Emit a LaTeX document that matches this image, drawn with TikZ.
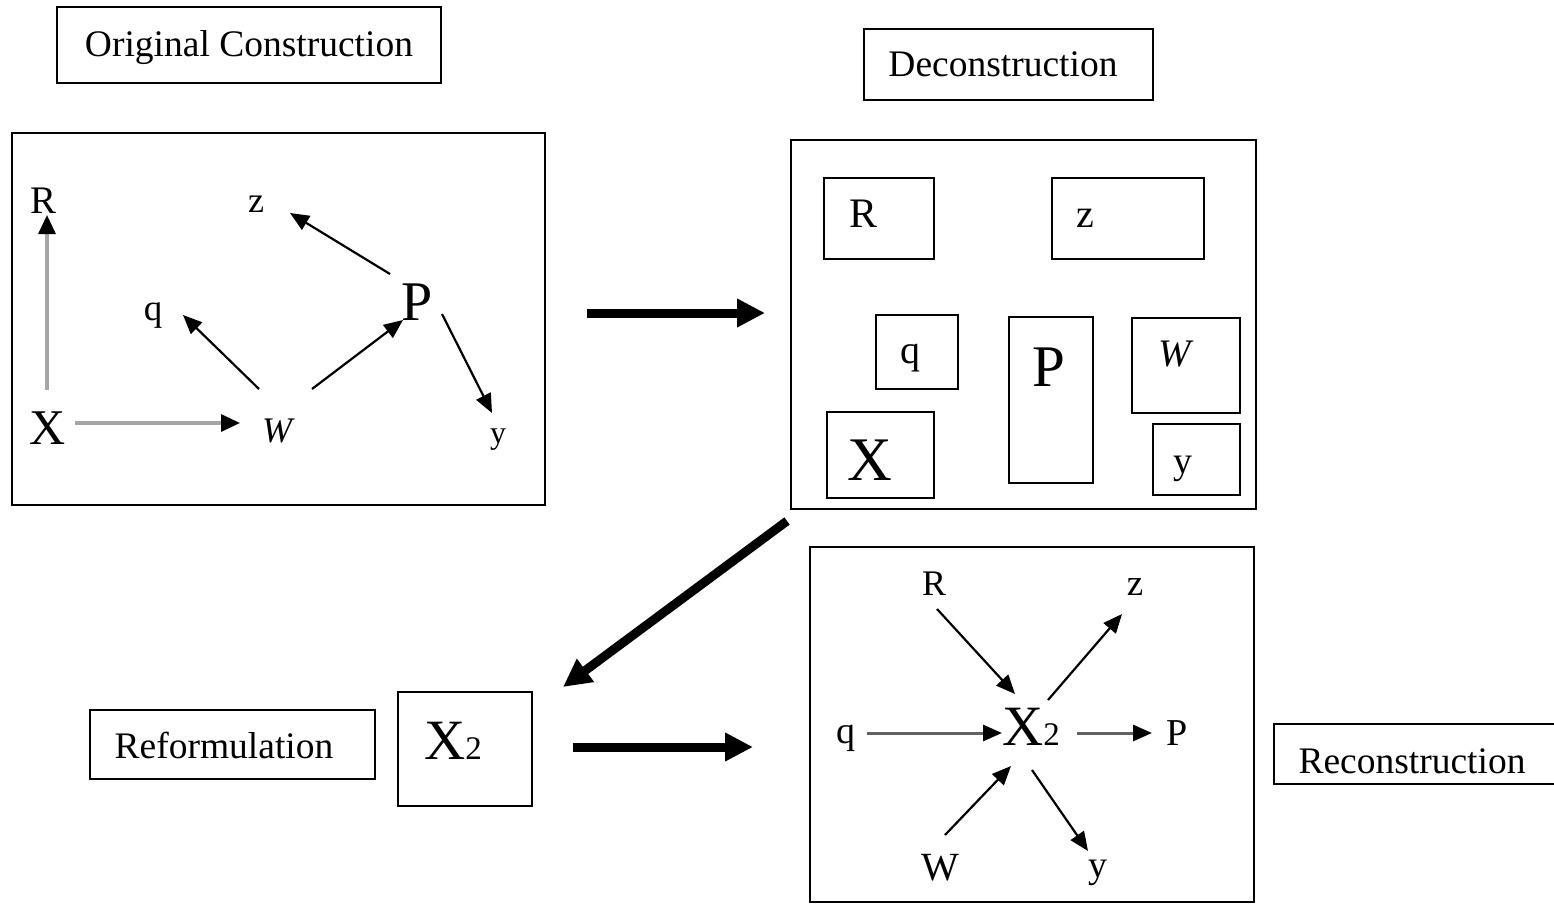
\documentclass[tikz,border=0pt]{standalone}
\usepackage{fontspec}
\setmainfont{Liberation Serif}
\usetikzlibrary{arrows.meta}
\newcommand\fsz[1]{\fontsize{#1pt}{#1pt}\selectfont}
\newcommand\Xtwo{{\fsz{57}X}{\fsz{33}2}}
\begin{document}
\begin{tikzpicture}[x=1pt,y=-1pt,
  t/.style={inner sep=0pt,outer sep=0pt,anchor=base},
  rect/.style={draw,line width=2pt,inner sep=0pt,outer sep=0pt},
  arr/.style={line width=2.2pt,-{Triangle[length=19pt,width=16pt]}},
  garr/.style={line width=3.2pt,draw=black!35,-{Triangle[length=19pt,width=17pt,color=black]}},
  darr/.style={line width=3pt,draw=black!62,-{Triangle[length=19pt,width=16pt,color=black]}},
  bigarr/.style={line width=9pt,-{Triangle[length=28pt,width=27pt]}}]
\useasboundingbox (0,0) rectangle (1554,904);
\fill[white] (0,0) rectangle (1554,904);

% ---------- labels ----------
\node[rect,minimum width=384pt,minimum height=76pt] (lorig) at (249,45) {};
\node[t] (torig) at (249,57) {\fsz{37.5}Original Construction};
\node[rect,minimum width=289pt,minimum height=71pt] (ldec) at (1008.5,64.5) {};
\node[t] (tdec) at (1003,77) {\fsz{37.5}Deconstruction};
\node[rect,minimum width=285pt,minimum height=69pt] (lref) at (232.5,744.5) {};
\node[t] (tref) at (224,758) {\fsz{37.5}Reformulation};
\draw[line width=2pt] (1570,724) -- (1274,724) -- (1274,784) -- (1570,784);
\node[t] (trec) at (1412,773) {\fsz{37.5}Reconstruction};

% ---------- original construction ----------
\node[rect,minimum width=533pt,minimum height=372pt] (orig) at (278.5,319) {};
\node[t] (oR) at (44,213) {\fsz{39}R};
\node[t] (oz) at (256,212) {\fsz{36}z};
\node[t] (oq) at (153,320) {\fsz{37}q};
\node[t] (oP) at (417,320) {\fsz{56}P};
\node[t] (oX) at (48,444) {\fsz{50}X};
\node[t] (oW) at (277,442) {\fsz{36}\itshape W};
\node[t] (oy) at (498,443) {\fsz{32}y};
\draw[garr] ([shift={(-1,-54)}]oX.base) -- ([shift={(3,2)}]oR.base);
\draw[garr] ([shift={(27,-21)}]oX.base) -- ([shift={(-37,-19)}]oW.base);
\draw[arr] ([shift={(-27,-46)}]oP.base) -- ([shift={(34,1)}]oz.base);
\draw[arr] ([shift={(-18,-53)}]oW.base) -- ([shift={(30,-5)}]oq.base);
\draw[arr] ([shift={(35,-53)}]oW.base) -- ([shift={(-14,0)}]oP.base);
\draw[arr] ([shift={(25,-6)}]oP.base) -- ([shift={(-6,-30)}]oy.base);

% ---------- deconstruction ----------
\node[rect,minimum width=465pt,minimum height=369pt] (dec) at (1023.5,324.5) {};
\node[rect,minimum width=110pt,minimum height=81pt] (dRb) at (879,218.5) {};
\node[rect,minimum width=152pt,minimum height=81pt] (dzb) at (1128,218.5) {};
\node[rect,minimum width=82pt,minimum height=74pt] (dqb) at (917,352) {};
\node[rect,minimum width=84pt,minimum height=166pt] (dPb) at (1051,400) {};
\node[rect,minimum width=108pt,minimum height=95pt] (dWb) at (1186,365.5) {};
\node[rect,minimum width=107pt,minimum height=86pt] (dXb) at (880.5,455) {};
\node[rect,minimum width=87pt,minimum height=71pt] (dyb) at (1196.5,459.5) {};
\node[t] (dR) at (863,227) {\fsz{42}R};
\node[t] (dz) at (1085,227) {\fsz{40}z};
\node[t] (dq) at (910,363) {\fsz{40}q};
\node[t] (dP) at (1049,386) {\fsz{59}P};
\node[t] (dW) at (1175,366) {\fsz{39}\itshape W};
\node[t] (dX) at (870,480) {\fsz{62}X};
\node[t] (dy) at (1183,473) {\fsz{38}y};

% ---------- reformulation ----------
\node[rect,minimum width=134pt,minimum height=114pt] (refb) at (465,749) {};
\node[t] (fX) at (453,759) {\Xtwo};

% ---------- reconstruction ----------
\node[rect,minimum width=444pt,minimum height=355pt] (rec) at (1032,724.5) {};
\node[t] (rR) at (934,595) {\fsz{36}R};
\node[t] (rz) at (1135,595) {\fsz{37}z};
\node[t] (rq) at (846,743) {\fsz{38}q};
\node[t] (rX) at (1031,745) {\Xtwo};
\node[t] (rP) at (1177,745) {\fsz{38}P};
\node[t] (rW) at (940,880) {\fsz{40}W};
\node[t] (ry) at (1098,877) {\fsz{38}y};
\draw[arr] ([shift={(3,14)}]rR.base) -- ([shift={(-16,-51)}]rX.base);
\draw[arr] ([shift={(17,-45)}]rX.base) -- ([shift={(-13,19)}]rz.base);
\draw[darr] ([shift={(21,-10)}]rq.base) -- ([shift={(-29,-12)}]rX.base);
\draw[darr] ([shift={(46,-12)}]rX.base) -- ([shift={(-25,-12)}]rP.base);
\draw[arr] ([shift={(5,-45)}]rW.base) -- ([shift={(-20,21)}]rX.base);
\draw[arr] ([shift={(1,25)}]rX.base) -- ([shift={(-10,-26)}]ry.base);

% ---------- big arrows ----------
\draw[bigarr] ([shift={(42,-6)}]orig.east) -- ([shift={(-26,-11.5)}]dec.west);
\draw[bigarr] ([shift={(-4,12)}]dec.south west) -- ([shift={(31,-5)}]refb.north east);
\draw[bigarr] ([shift={(41,-2)}]refb.east) -- ([shift={(-57,22.5)}]rec.west);
\end{tikzpicture}
\end{document}
